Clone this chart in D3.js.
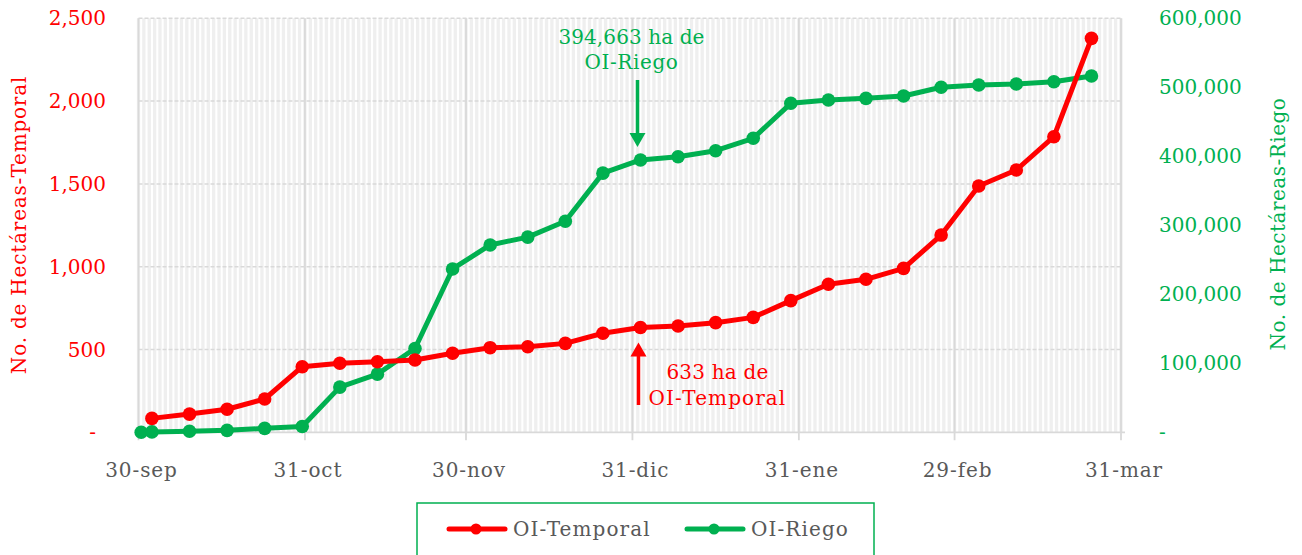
<!DOCTYPE html>
<html><head><meta charset="utf-8">
<script src="https://cdn.jsdelivr.net/npm/d3@7"></script>
<style>
html,body{margin:0;padding:0;background:#fff;}
text{font-family:"DejaVu Serif",serif;}
</style>
</head><body>
<svg id="chart" width="1302" height="555"></svg>
<script>
// ---- data ----
const temporalDates = ["2023-10-02","2023-10-09","2023-10-16","2023-10-23","2023-10-30","2023-11-06","2023-11-13","2023-11-20","2023-11-27","2023-12-04","2023-12-11","2023-12-18","2023-12-25","2024-01-01","2024-01-08","2024-01-15","2024-01-22","2024-01-29","2024-02-05","2024-02-12","2024-02-19","2024-02-26","2024-03-04","2024-03-11","2024-03-18","2024-03-25"];
const temporalValues = [84,110,139,201,396,417,426,437,477,511,517,537,598,633,642,662,694,795,894,924,990,1191,1487,1584,1785,2379];
const riegoDates = ["2023-09-30","2023-10-02","2023-10-09","2023-10-16","2023-10-23","2023-10-30","2023-11-06","2023-11-13","2023-11-20","2023-11-27","2023-12-04","2023-12-11","2023-12-18","2023-12-25","2024-01-01","2024-01-08","2024-01-15","2024-01-22","2024-01-29","2024-02-05","2024-02-12","2024-02-19","2024-02-26","2024-03-04","2024-03-11","2024-03-18","2024-03-25"];
const riegoValues = [0,600,1500,2800,5700,8500,65500,84300,121500,236700,271500,282900,305800,375600,394663,399400,408100,426100,476800,481600,484000,487400,500000,503300,504800,508100,516400];
const xTickDates = ["2023-09-30","2023-10-31","2023-11-30","2023-12-31","2024-01-31","2024-02-29","2024-03-31"];
const xTickLabels = ["30-sep","31-oct","30-nov","31-dic","31-ene","29-feb","31-mar"];
const leftTicks = [0,500,1000,1500,2000,2500];
const rightTicks = [0,100000,200000,300000,400000,500000,600000];
const seriesNames = ["OI-Temporal","OI-Riego"];
const seriesColors = ["#ff0000","#00b050"];
const annotRiego = ["394,663 ha de","OI-Riego"];
const annotTemporal = ["633 ha de","OI-Temporal"];
const annotDate = "2024-01-01";

const parse = d3.timeParse("%Y-%m-%d");
const svg = d3.select("#chart");
const L = 138.5, R = 1121, T = 18.3, B = 432.3;

const x = d3.scaleTime().domain([parse("2023-09-30"), parse("2024-03-31")]).range([L, R]);
const yL = d3.scaleLinear().domain([0, 2500]).range([B, T]);
const yR = d3.scaleLinear().domain([0, 600000]).range([B, T]);
const xp = d => x(d3.timeHour.offset(d, 12)); // points centred on their day

// minor daily gridlines
const days = d3.timeDay.range(parse("2023-09-30"), d3.timeDay.offset(parse("2024-03-31"), 1));
svg.append("g").selectAll("line").data(days).join("line")
  .attr("x1", d => x(d)).attr("x2", d => x(d)).attr("y1", T).attr("y2", B)
  .attr("stroke", "#efefef").attr("stroke-width", 3.3);

// horizontal gridlines (dashed)
svg.append("g").selectAll("line").data(leftTicks.filter(v => v > 0)).join("line")
  .attr("x1", L).attr("x2", R + 1).attr("y1", d => yL(d)).attr("y2", d => yL(d))
  .attr("stroke", "#d9d9d9").attr("stroke-width", 1.5).attr("stroke-dasharray", "4,2");

// month gridlines + x axis
const xTicks = xTickDates.map(parse);
svg.append("g").selectAll("line").data(xTicks).join("line")
  .attr("x1", d => x(d)).attr("x2", d => x(d)).attr("y1", T).attr("y2", B + 8)
  .attr("stroke", "#d9d9d9").attr("stroke-width", 1.8);
svg.append("line").attr("x1", L).attr("x2", R + 4).attr("y1", B).attr("y2", B)
  .attr("stroke", "#d9d9d9").attr("stroke-width", 1.8);

svg.append("g").selectAll("text").data(xTicks).join("text")
  .attr("x", d => x(d) + 3).attr("y", 477).attr("text-anchor", "middle")
  .attr("font-size", 20).attr("fill", "#595959").attr("letter-spacing", 0.9)
  .text((d, i) => xTickLabels[i]);

// left axis labels
const fmt = d3.format(",");
svg.append("g").selectAll("text").data(leftTicks).join("text")
  .attr("x", d => d === 0 ? 96 : 106).attr("y", d => yL(d)).attr("dy", "0.35em")
  .attr("text-anchor", "end").attr("font-size", 20).attr("fill", "#ff0000")
  .text(d => d === 0 ? "-" : fmt(d));
// right axis labels
svg.append("g").selectAll("text").data(rightTicks).join("text")
  .attr("x", 1159).attr("y", d => yR(d)).attr("dy", "0.35em")
  .attr("text-anchor", "start").attr("font-size", 20).attr("fill", "#00b050")
  .text(d => d === 0 ? "-" : fmt(d));

// axis titles
svg.append("text").attr("transform", "translate(26,225) rotate(-90)")
  .attr("text-anchor", "middle").attr("font-size", 20).attr("fill", "#ff0000")
  .attr("letter-spacing", 0.8)
  .text("No. de Hectáreas-Temporal");
svg.append("text").attr("transform", "translate(1285,224) rotate(-90)")
  .attr("text-anchor", "middle").attr("font-size", 20).attr("fill", "#00b050")
  .attr("letter-spacing", 0.5)
  .text("No. de Hectáreas-Riego");

// series
const tData = temporalDates.map((d, i) => ({date: parse(d), v: temporalValues[i]}));
const rData = riegoDates.map((d, i) => ({date: parse(d), v: riegoValues[i]}));

function drawSeries(data, y, color) {
  const line = d3.line().x(d => xp(d.date)).y(d => y(d.v));
  svg.append("path").datum(data).attr("d", line).attr("fill", "none")
    .attr("stroke", color).attr("stroke-width", 5).attr("stroke-linejoin", "round");
  svg.append("g").selectAll("circle").data(data).join("circle")
    .attr("cx", d => xp(d.date)).attr("cy", d => y(d.v)).attr("r", 6.8).attr("fill", color);
}
drawSeries(rData, yR, seriesColors[1]);
drawSeries(tData, yL, seriesColors[0]);

// annotations
const aDate = parse(annotDate);
const ax = xp(aDate);
const rIdx = riegoDates.indexOf(annotDate);
const tIdx = temporalDates.indexOf(annotDate);
const gTip = yR(riegoValues[rIdx]) - 13;
const gx = ax - 3;
svg.append("line").attr("x1", gx).attr("x2", gx).attr("y1", 80).attr("y2", gTip - 12)
  .attr("stroke", seriesColors[1]).attr("stroke-width", 3.5);
svg.append("path").attr("d", `M${gx-8},${gTip-14} L${gx+8},${gTip-14} L${gx},${gTip} Z`).attr("fill", seriesColors[1]);
svg.append("g").selectAll("text").data(annotRiego).join("text")
  .attr("x", gx - 6).attr("y", (d, i) => 44 + i * 25).attr("text-anchor", "middle")
  .attr("font-size", 20).attr("fill", seriesColors[1]).attr("letter-spacing", (d, i) => i ? 0.6 : 0.1)
  .text(d => d);

const rTip = yL(temporalValues[tIdx]) + 15;
const rx = ax - 2;
svg.append("line").attr("x1", rx).attr("x2", rx).attr("y1", 405).attr("y2", rTip + 12)
  .attr("stroke", seriesColors[0]).attr("stroke-width", 3.5);
svg.append("path").attr("d", `M${rx-8},${rTip+14} L${rx+8},${rTip+14} L${rx},${rTip} Z`).attr("fill", seriesColors[0]);
svg.append("g").selectAll("text").data(annotTemporal).join("text")
  .attr("x", 717.5).attr("y", (d, i) => 379 + i * 26).attr("text-anchor", "middle")
  .attr("font-size", 20).attr("fill", seriesColors[0]).attr("letter-spacing", (d, i) => i ? 1.1 : 0.2)
  .text(d => d);

// legend
svg.append("rect").attr("x", 417).attr("y", 503).attr("width", 457).attr("height", 60)
  .attr("fill", "none").attr("stroke", "#00b050").attr("stroke-width", 1.5);
const legX = [449, 687];
seriesNames.forEach((n, i) => {
  const g = svg.append("g");
  g.append("line").attr("x1", legX[i]).attr("x2", legX[i] + 56).attr("y1", 529).attr("y2", 529)
    .attr("stroke", seriesColors[i]).attr("stroke-width", 5).attr("stroke-linecap", "round");
  g.append("circle").attr("cx", legX[i] + 27).attr("cy", 529).attr("r", 5.5).attr("fill", seriesColors[i]);
  g.append("text").attr("x", legX[i] + 64).attr("y", 529).attr("dy", "0.35em")
    .attr("font-size", 20).attr("fill", "#595959").attr("letter-spacing", 1.1).text(n);
});
</script>
</body></html>
